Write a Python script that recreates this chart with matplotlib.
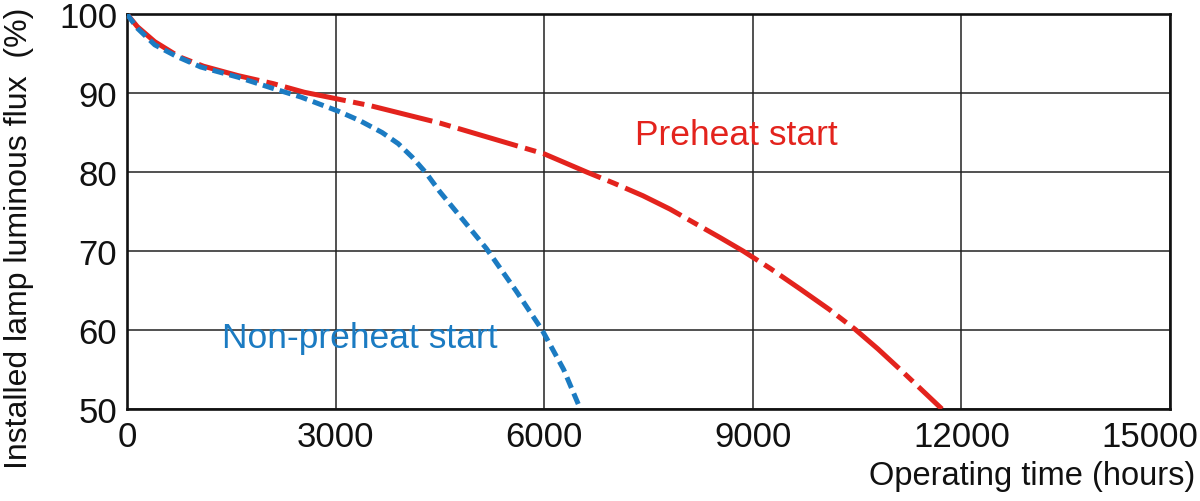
import matplotlib
matplotlib.use("Agg")
import matplotlib.pyplot as plt
from matplotlib.transforms import ScaledTranslation

plt.rcParams['font.family'] = ['Liberation Sans', 'DejaVu Sans']

# Preheat start (red)
preheat_hours = [0, 150, 400, 750, 1100, 1600, 2100, 2550, 3000, 3500, 4000, 4500, 5000,
                 5500, 6000, 6610, 7000, 7420, 7810, 8150, 8530, 8860, 9250, 9680, 10100,
                 10470, 10800, 11120, 11420, 11720]
preheat_flux = [100, 98.4, 96.5, 94.6, 93.4, 92.2, 91.2, 90.1, 89.3, 88.4, 87.3, 86.2, 84.9,
                83.6, 82.3, 80.0, 78.6, 77.0, 75.3, 73.6, 71.7, 70.0, 67.8, 65.2, 62.6,
                60.1, 57.6, 55.0, 52.5, 50.0]

# Non-preheat start (blue)
nonpre_hours = [0, 150, 400, 700, 1060, 1600, 2130, 2500, 3040, 3350, 3670, 3900, 4100,
                4300, 4500, 4790, 5170, 5600, 5970, 6280, 6520]
nonpre_flux = [100, 98.2, 96.1, 94.7, 93.3, 92.0, 90.5, 89.5, 87.7, 86.5, 85.0, 83.6, 81.9,
               79.9, 77.5, 74.4, 70.3, 64.9, 60.0, 55.0, 50.0]

xticks = [0, 3000, 6000, 9000, 12000, 15000]
yticks = [50, 60, 70, 80, 90, 100]

red = '#e3231d'
blue = '#1b7bc2'

fig = plt.figure(figsize=(12, 5.02), dpi=100)
ax = fig.add_axes([0.1058, 0.1833, 0.8692, 0.7867])

ln1, = ax.plot(preheat_hours, preheat_flux, color=red, lw=3.6, zorder=3)
ln1.set_dashes([12.5, 1.5, 2.3, 1.5])
ln2, = ax.plot(nonpre_hours, nonpre_flux, color=blue, lw=3.6, zorder=4)
ln2.set_dashes([2.3, 1.2])

ax.set_xlim(0, 15000)
ax.set_ylim(50, 100)
ax.set_xticks(xticks)
ax.set_yticks(yticks)
ax.set_xticklabels([str(t) for t in xticks])
ax.set_yticklabels([str(t) for t in yticks])
ax.tick_params(length=0, labelsize=25, colors='#111111')
ax.tick_params(axis='y', pad=7)
ax.tick_params(axis='x', pad=8)

# last x label sits a bit left so it fits in the figure
last = ax.get_xticklabels()[-1]
last.set_transform(last.get_transform() + ScaledTranslation(-0.2, 0, fig.dpi_scale_trans))

ax.grid(True, color='#222222', lw=1.1)
ax.set_axisbelow(True)
for s in ax.spines.values():
    s.set_linewidth(1.9)
    s.set_color('#111111')

ax.text(8770, 84.8, 'Preheat start', color=red, fontsize=25.5, ha='center', va='center')
ax.text(3350, 59.1, 'Non-preheat start', color=blue, fontsize=25.5, ha='center', va='center')

fig.text(0.996, 0.05, 'Operating time (hours)', fontsize=23.5, ha='right', va='center', color='#111111')
fig.text(0.016, 0.525, 'Installed lamp luminous flux  (%)', fontsize=23, rotation=90,
         ha='center', va='center', color='#111111')

fig.savefig('out.png', dpi=100, facecolor='white')
